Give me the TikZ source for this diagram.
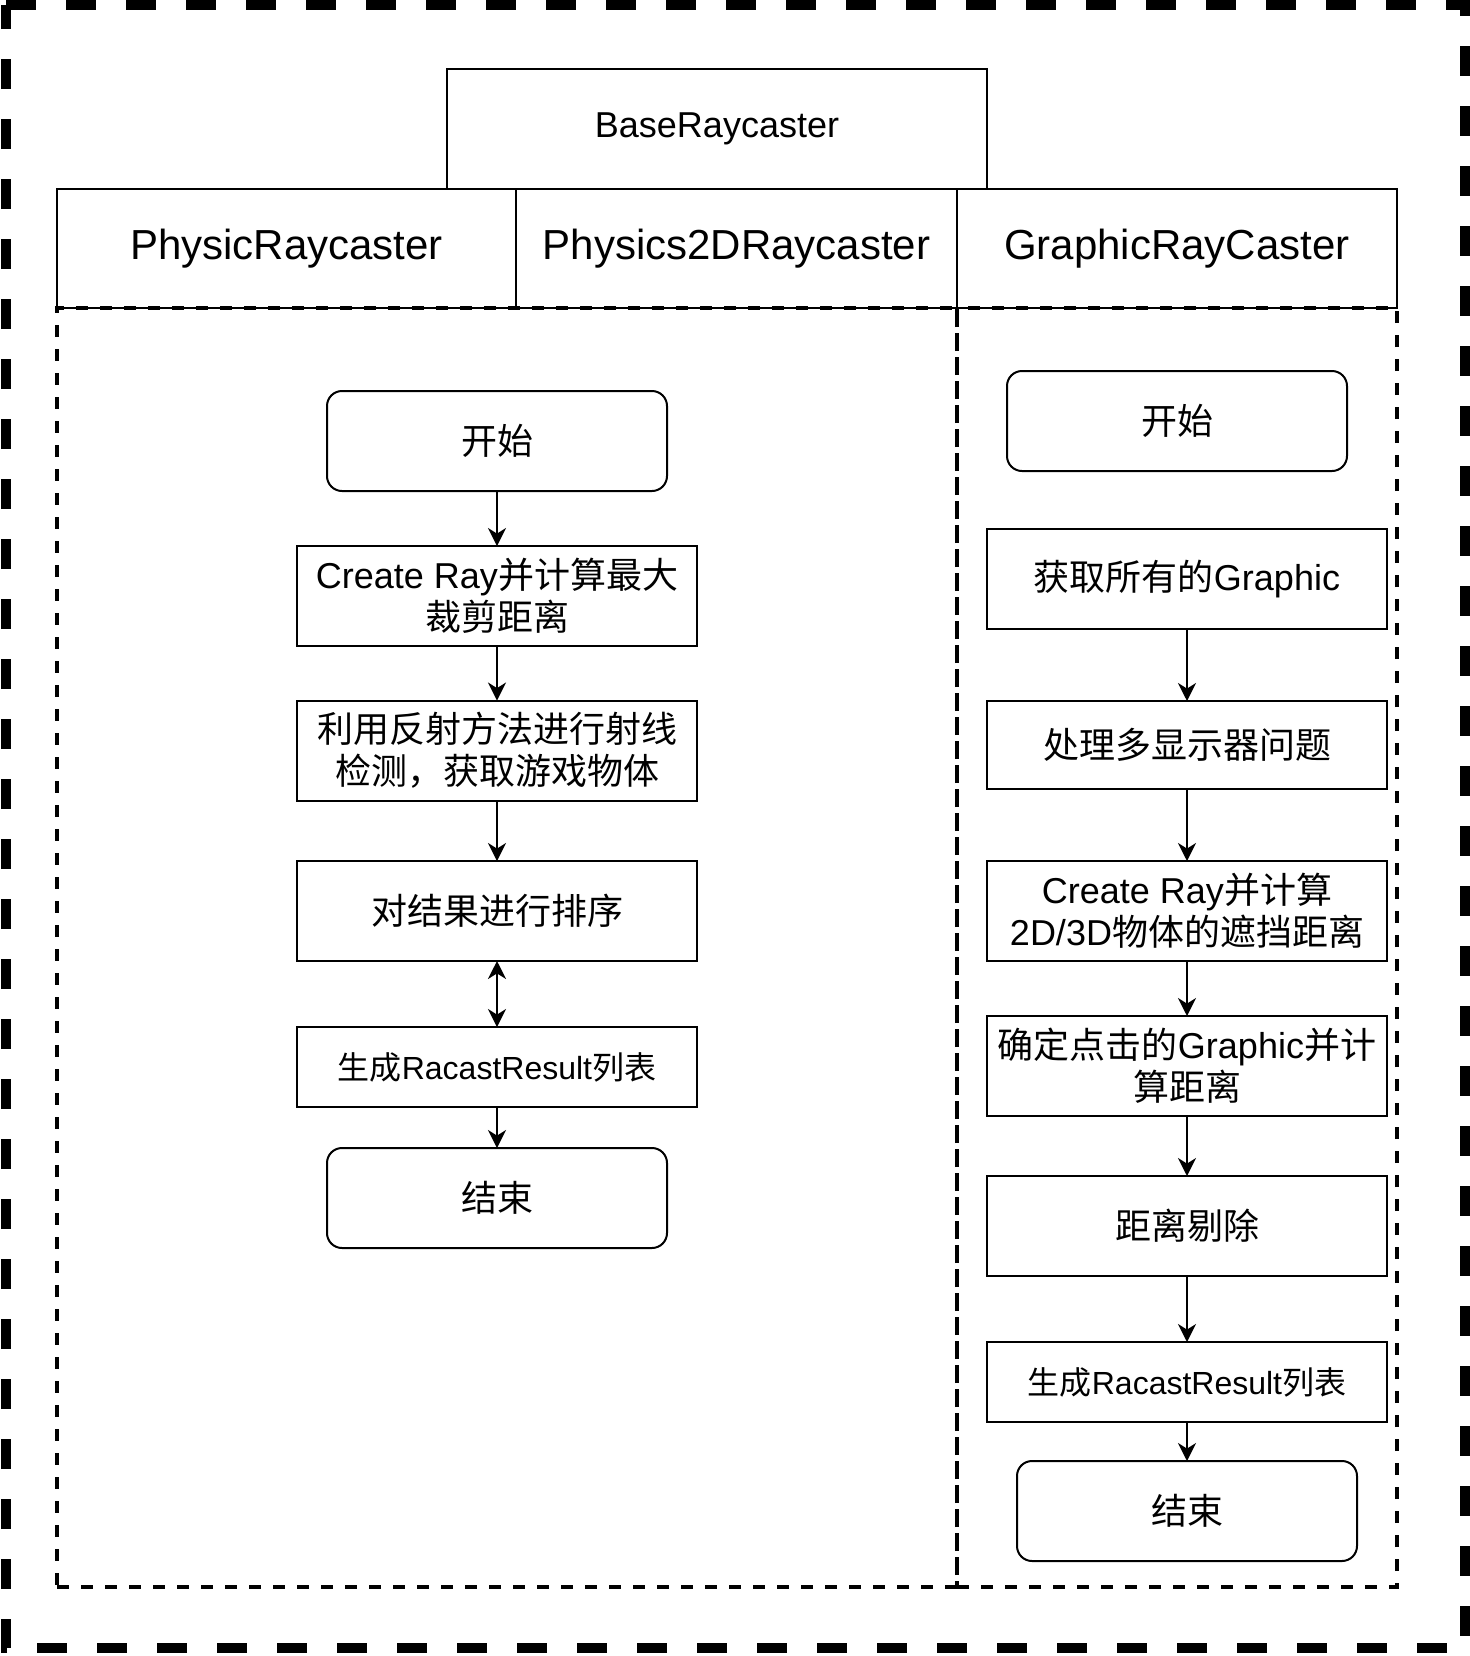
\documentclass[tikz,border=0pt]{standalone}
\usepackage{fontspec}
\setmainfont{Liberation Sans}
\newfontfamily\cjk{Noto Sans CJK SC}
\usetikzlibrary{arrows.meta}
\begin{document}
\begin{tikzpicture}[x=0.5pt,y=-0.5pt,
  box/.style={draw, line width=1pt, inner sep=0pt, outer sep=0pt, align=center,
    minimum width=200pt, minimum height=50pt, font=\fontsize{18}{21}\selectfont},
  smallbox/.style={box, minimum height=40pt, font=\fontsize{16}{19}\selectfont},
  rbox/.style={box, rounded corners=7.5pt, minimum width=170pt},
  hdr/.style={draw, line width=1pt, inner sep=0pt, outer sep=0pt, minimum height=59.5pt,
    font=\fontsize{21}{25}\selectfont},
  container/.style={draw, line width=1.8pt, dash pattern=on 6pt off 6pt, inner sep=0pt,
    outer sep=0pt, minimum height=639.5pt},
  arr/.style={-{Stealth[length=9pt,width=9pt,inset=2.8pt]}, line width=0.9pt},
  darr/.style={{Stealth[length=9pt,width=9pt,inset=2.8pt]}-{Stealth[length=9pt,width=9pt,inset=2.8pt]}, line width=0.9pt},
]
\useasboundingbox (0,0) rectangle (1470,1656);

% outer dashed frame
\draw[line width=5pt, dash pattern=on 15pt off 15pt] (6,5) -- (1465,5) -- (1465,1648) -- (6,1648) -- cycle;

% containers
\node[container, minimum width=450pt] (contL) at (507,947.5) {};
\node[container, minimum width=220pt] (contR) at (1177,947.5) {};

% headers
\node[hdr, minimum width=270pt, minimum height=60pt, font=\fontsize{18}{21}\selectfont] (base) at (717,129) {BaseRaycaster};
\node[hdr, minimum width=229.5pt] (phys) at (286.5,248.5) {PhysicRaycaster};
\node[hdr, minimum width=220.5pt] (phys2d) at (736.5,248.5) {Physics2DRaycaster};
\node[hdr, minimum width=220pt] (graph) at (1177,248.5) {GraphicRayCaster};

% left flow
\node[rbox] (sL) at (497,441) {\cjk 开始};
\node[box] (l1) at (497,596) {Create Ray{\cjk 并计算最大}\\{\cjk 裁剪距离}};
\node[box] (l2) at (497,750.5) {{\cjk 利用反射方法进行射线}\\{\cjk 检测，获取游戏物体}};
\node[box] (l3) at (497,911) {\cjk 对结果进行排序};
\node[smallbox] (l4) at (497,1067) {{\cjk 生成}Racast\-Result{\cjk 列表}};
\node[rbox] (eL) at (497,1198) {\cjk 结束};

\draw[arr] (sL.south) -- (l1.north);
\draw[arr] (l1.south) -- (l2.north);
\draw[arr] (l2.south) -- (l3.north);
\draw[darr] (l3.south) -- (l4.north);
\draw[arr] (l4.south) -- (eL.north);

% right flow
\node[rbox] (sR) at (1177,421) {\cjk 开始};
\node[box] (r1) at (1187,579) {{\cjk 获取所有的}Graphic};
\node[box, minimum height=44pt] (r2) at (1187,745) {\cjk 处理多显示器问题};
\node[box] (r3) at (1187,911) {Create Ray{\cjk 并计算}\\2D/3D{\cjk 物体的遮挡距离}};
\node[box] (r4) at (1187,1066) {{\cjk 确定点击的}Graphic{\cjk 并计}\\{\cjk 算距离}};
\node[box] (r5) at (1187,1226) {\cjk 距离剔除};
\node[smallbox] (r6) at (1187,1382) {{\cjk 生成}Racast\-Result{\cjk 列表}};
\node[rbox] (eR) at (1187,1511) {\cjk 结束};

\draw[arr] (r1.south) -- (r2.north);
\draw[arr] (r2.south) -- (r3.north);
\draw[arr] (r3.south) -- (r4.north);
\draw[arr] (r4.south) -- (r5.north);
\draw[arr] (r5.south) -- (r6.north);
\draw[arr] (r6.south) -- (eR.north);
\end{tikzpicture}
\end{document}
